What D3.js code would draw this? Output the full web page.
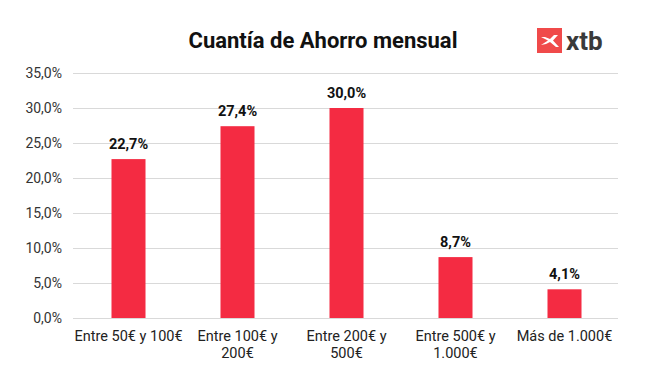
<!DOCTYPE html>
<meta charset="utf-8">
<style>
body { margin: 0; background: #fff; font-family: Roboto, "Noto Sans", Arial, sans-serif; }
.grid line { stroke: #d9d9d9; }
.ylab { font-size: 14px; fill: #333; }
.xlab { font-size: 14.5px; fill: #222; }
.val { font-size: 14.5px; font-weight: bold; fill: #111; }
</style>
<body>
<svg id="chart" width="647" height="373"></svg>
<script src="https://d3js.org/d3.v7.min.js"></script>
<script>
// data
var categories = ["Entre 50€ y 100€", "Entre 100€ y 200€", "Entre 200€ y 500€", "Entre 500€ y 1.000€", "Más de 1.000€"];
var catLines = [["Entre 50€ y 100€"], ["Entre 100€ y", "200€"], ["Entre 200€ y", "500€"], ["Entre 500€ y", "1.000€"], ["Más de 1.000€"]];
var values = [22.7, 27.4, 30.0, 8.7, 4.1];
var yTicks = [0, 5, 10, 15, 20, 25, 30, 35];

var svg = d3.select("#chart");
var fmt = function (v) { return v.toFixed(1).replace(".", ",") + "%"; };

var x = d3.scaleBand().domain(categories).range([74, 619]).padding(0);
var y = d3.scaleLinear().domain([0, 35]).range([318, 73]);
var barW = x.bandwidth() * 0.312;

// gridlines
var grid = svg.append("g").attr("class", "grid");
grid.selectAll("line").data(yTicks).enter().append("line")
  .attr("x1", 73).attr("x2", 618)
  .attr("y1", function (d) { return y(d) + 0.5; })
  .attr("y2", function (d) { return y(d) + 0.5; });

svg.append("g").selectAll("text").data(yTicks).enter().append("text")
  .attr("class", "ylab")
  .attr("x", 62).attr("y", function (d) { return y(d) + 5; })
  .attr("text-anchor", "end")
  .text(function (d) { return fmt(d); });

// bars
svg.append("g").selectAll("rect").data(values).enter().append("rect")
  .attr("x", function (d, i) { return x(categories[i]) + x.bandwidth() / 2 - barW / 2; })
  .attr("width", barW)
  .attr("y", function (d) { return y(d); })
  .attr("height", function (d) { return y(0) - y(d); })
  .attr("fill", "#f42b42");

svg.append("g").selectAll("text").data(values).enter().append("text")
  .attr("class", "val")
  .attr("x", function (d, i) { return x(categories[i]) + x.bandwidth() / 2; })
  .attr("y", function (d) { return y(d) - 10; })
  .attr("text-anchor", "middle")
  .text(function (d) { return fmt(d); });

// x labels
var xl = svg.append("g").selectAll("text").data(catLines).enter().append("text")
  .attr("class", "xlab")
  .attr("text-anchor", "middle")
  .attr("x", function (d, i) { return x(categories[i]) + x.bandwidth() / 2; })
  .attr("y", 341);
xl.selectAll("tspan").data(function (d) { return d; }).enter().append("tspan")
  .attr("x", function () { return d3.select(this.parentNode).attr("x"); })
  .attr("dy", function (d, i) { return i ? 17 : 0; })
  .text(function (d) { return d; });

// title
svg.append("text")
  .attr("x", 323).attr("y", 48)
  .attr("text-anchor", "middle")
  .style("font-size", "22px").style("font-weight", "bold").style("fill", "#111")
  .text("Cuantía de Ahorro mensual");

// logo
var logo = svg.append("g").attr("transform", "translate(537,28)");
logo.append("rect").attr("width", 25).attr("height", 25).attr("fill", "#f04a4a");
logo.append("path")
  .attr("d", "M4,9 L11,12.5 L4,17 L9,16 L13,14 L19,19 L22,19 L16,12.5 L21,7 L17,7 L13,11 L8,9 Z")
  .attr("fill", "#fff");
svg.append("text")
  .attr("x", 566).attr("y", 50)
  .style("font-size", "26px").style("font-weight", "bold").style("fill", "#3a3a3a")
  .text("xtb");
</script>
</body>
